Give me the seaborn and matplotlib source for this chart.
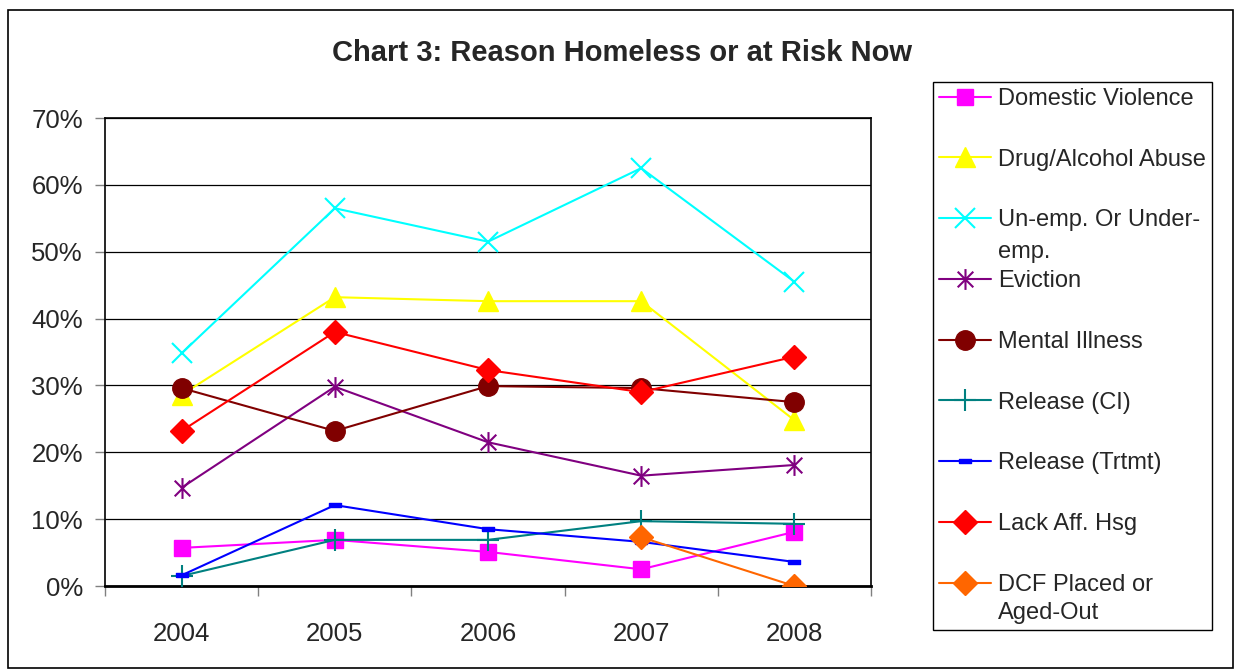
import numpy as np
import pandas as pd
import seaborn as sns
import matplotlib.pyplot as plt
from matplotlib.path import Path
from matplotlib.patches import Rectangle
from matplotlib.legend_handler import HandlerLine2D
from matplotlib.ticker import FixedLocator, FuncFormatter

# Data (percent of respondents)
years = [2004, 2005, 2006, 2007, 2008]
domestic_violence = [5.7, 6.9, 5.1, 2.5, 8.1]
drug_alcohol = [28.6, 43.2, 42.6, 42.6, 24.8]
unemployment = [34.8, 56.5, 51.5, 62.5, 45.5]
eviction = [14.7, 29.8, 21.5, 16.5, 18.1]
mental_illness = [29.6, 23.2, 29.9, 29.6, 27.5]
release_ci = [1.5, 6.9, 6.9, 9.7, 9.3]
release_trtmt = [1.6, 12.1, 8.5, 6.6, 3.6]
lack_aff_hsg = [23.2, 38.0, 32.3, 29.0, 34.3]
dcf_placed = [np.nan, np.nan, np.nan, 7.3, 0.0]

series_names = ["Domestic Violence", "Drug/Alcohol Abuse", "Un-emp. Or Under-",
                "Eviction", "Mental Illness", "Release (CI)", "Release (Trtmt)",
                "Lack Aff. Hsg", "DCF Placed or\nAged-Out"]
series_values = [domestic_violence, drug_alcohol, unemployment, eviction, mental_illness,
                 release_ci, release_trtmt, lack_aff_hsg, dcf_placed]

# marker shapes
asterisk = Path([(0, -1), (0, 1), (-0.75, -0.75), (0.75, 0.75), (-0.75, 0.75), (0.75, -0.75)],
                [Path.MOVETO, Path.LINETO, Path.MOVETO, Path.LINETO, Path.MOVETO, Path.LINETO])
dash_box = [(-1, -0.4), (1, -0.4), (1, 0.4), (-1, 0.4), (-1, -0.4)]

styles = [
    dict(color="#FF00FF", marker="s", markersize=12),
    dict(color="#FFFF00", marker="^", markersize=14),
    dict(color="#00FFFF", marker="x", markersize=15, mew=1.5),
    dict(color="#800080", marker=asterisk, markersize=15, mew=1.5),
    dict(color="#800000", marker="o", markersize=14),
    dict(color="#008080", marker="+", markersize=16, mew=1.5),
    dict(color="#0000FF", marker=dash_box, markersize=8),
    dict(color="#FF0000", marker="D", markersize=12),
    dict(color="#FF6600", marker="D", markersize=12),
]

sns.set_style("white")
plt.rcParams["font.family"] = ["Liberation Sans", "DejaVu Sans"]

fig = plt.figure(figsize=(12.36, 6.71), dpi=100)
ax = fig.add_axes([105 / 1236, 85 / 671, 766 / 1236, 468 / 671])

for name, vals, st in zip(series_names, series_values, styles):
    df = pd.DataFrame({"Year": years, "Pct": vals})
    st = dict(st)
    col = st.pop("color")
    mew = st.pop("mew", 1)
    sns.lineplot(data=df, x="Year", y="Pct", ax=ax, color=col, linewidth=1.5,
                 markeredgecolor=col, markerfacecolor=col, markeredgewidth=mew,
                 label=name, zorder=3, **st)

ax.set_xlim(2003.5, 2008.5)
ax.set_ylim(0, 70)
ax.set_yticks(range(0, 71, 10))
ax.yaxis.set_major_formatter(FuncFormatter(lambda v, p: f"{int(v)}%"))
ax.set_xticks(years)
ax.set_xticklabels([str(y) for y in years])
ax.xaxis.set_minor_locator(FixedLocator([y - 0.5 for y in years] + [2008.5]))
ax.tick_params(axis="x", which="major", length=0, pad=26, labelsize=18.5)
ax.tick_params(axis="x", which="minor", length=7, width=1, color="#808080", direction="out", bottom=True)
ax.tick_params(axis="y", length=7, width=1, color="#808080", direction="out", left=True, pad=9, labelsize=18.5)
ax.set_xlabel("")
ax.set_ylabel("")
ax.yaxis.grid(True, color="black", linewidth=0.9)
ax.set_axisbelow(True)
for side in ["left", "right", "top"]:
    ax.spines[side].set_color("black")
    ax.spines[side].set_linewidth(1.2)
ax.spines["bottom"].set_color("black")
ax.spines["bottom"].set_linewidth(2)


class FirstLineHandler(HandlerLine2D):
    # put the marker next to the first line of a wrapped label
    def __init__(self, shift=0, **kw):
        super().__init__(**kw)
        self.shift = shift

    def create_artists(self, legend, orig_handle, xdescent, ydescent, width, height, fontsize, trans):
        return super().create_artists(legend, orig_handle, xdescent, ydescent - 2 * self.shift,
                                      width, height, fontsize, trans)


handles, labels = ax.get_legend_handles_labels()
leg_fs = 17
hmap = {h: FirstLineHandler(shift=0.7 * leg_fs) for h, l in zip(handles, labels) if "\n" in l}
leg = ax.legend(handles, labels, loc="upper left", bbox_to_anchor=(933 / 1236, 1 - 82 / 671),
                bbox_transform=fig.transFigure, borderaxespad=0, fontsize=leg_fs,
                frameon=True, fancybox=False, framealpha=1, edgecolor="black",
                handlelength=2.2, handletextpad=0.3, labelspacing=1.64, borderpad=0.25,
                handler_map=hmap)
leg.get_frame().set_linewidth(1)
for t in leg.get_texts():
    t.set_linespacing(1.4)

# wrapped continuation of the un-employment label, placed under its first line
unemp_text = leg.get_texts()[2]
ax.annotate("emp.", xy=(0, 0), xycoords=unemp_text, xytext=(0, -7), textcoords="offset points",
            ha="left", va="top", fontsize=leg_fs, zorder=10, annotation_clip=False)

fig.text(622 / 1236, 1 - 53 / 671, "Chart 3: Reason Homeless or at Risk Now",
         ha="center", va="center", fontsize=21, fontweight="bold")

fig.patches.append(Rectangle((8 / 1236, 3 / 671), 1225 / 1236, 658 / 671, transform=fig.transFigure,
                             fill=False, edgecolor="black", linewidth=1.2))

fig.savefig("out.png", dpi=100)
